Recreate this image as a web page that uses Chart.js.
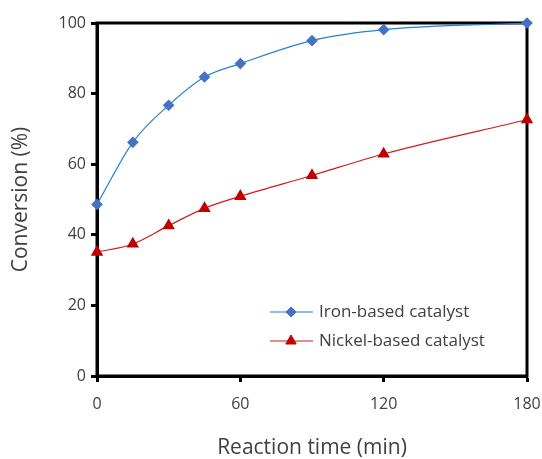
<!DOCTYPE html>
<html lang="en">
<head>
    <meta charset="UTF-8">
    <title>Conversion vs Reaction Time</title>
    <script src="https://cdn.jsdelivr.net/npm/chart.js"></script>
    <style>
        body { margin: 0; background: #fff; }
    </style>
</head>
<body>
    <canvas id="conversionChart" width="542" height="459"></canvas>

    <script>
        // Data
        var times = [0, 15, 30, 45, 60, 90, 120, 180];
        var ironConversion = [48.6, 66.2, 76.7, 84.7, 88.5, 95.0, 98.1, 100.0];
        var nickelConversion = [35.1, 37.4, 42.6, 47.5, 50.9, 56.8, 62.9, 72.6];
        var seriesLabels = ['Iron-based catalyst', 'Nickel-based catalyst'];
        var xTicks = [0, 60, 120, 180];
        var yTicks = [0, 20, 40, 60, 80, 100];

        var fontFamily = "'Open Sans', 'Noto Sans', sans-serif";
        var textColor = '#404040';

        function toPoints(xs, ys) {
            return xs.map(function(x, i) { return { x: x, y: ys[i] }; });
        }

        // Frame around the plot area (drawn under the lines and markers)
        var framePlugin = {
            id: 'frame',
            beforeDatasetsDraw: function(chart) {
                var a = chart.chartArea, ctx = chart.ctx;
                ctx.save();
                ctx.strokeStyle = '#000';
                ctx.lineWidth = 3;
                ctx.strokeRect(a.left, a.top, a.right - a.left, a.bottom - a.top);
                ctx.restore();
            }
        };

        // Legend drawn inside the plot, bottom right
        var insideLegend = {
            id: 'insideLegend',
            afterDraw: function(chart) {
                var ctx = chart.ctx;
                var rows = [312, 341];
                ctx.save();
                chart.data.datasets.forEach(function(ds, i) {
                    var y = rows[i];
                    ctx.strokeStyle = ds.borderColor;
                    ctx.lineWidth = 1.2;
                    ctx.beginPath();
                    ctx.moveTo(270, y);
                    ctx.lineTo(313, y);
                    ctx.stroke();
                    ctx.fillStyle = ds.pointBackgroundColor;
                    ctx.strokeStyle = ds.pointBorderColor;
                    ctx.lineWidth = 1;
                    Chart.helpers.drawPoint(ctx, {
                        pointStyle: ds.pointStyle,
                        radius: ds.pointRadius,
                        borderWidth: 1
                    }, 291, y);
                    ctx.fillStyle = textColor;
                    ctx.font = '17px ' + fontFamily;
                    ctx.textBaseline = 'middle';
                    ctx.textAlign = 'left';
                    ctx.fillText(ds.label, 319, y);
                });
                ctx.restore();
            }
        };

        var ctx = document.getElementById('conversionChart').getContext('2d');
        var chart = new Chart(ctx, {
            type: 'line',
            data: {
                datasets: [{
                    label: seriesLabels[0],
                    data: toPoints(times, ironConversion),
                    borderColor: '#2481d7',
                    borderWidth: 1.2,
                    pointStyle: 'rectRot',
                    pointRadius: 5,
                    pointBackgroundColor: '#4472c4',
                    pointBorderColor: '#4472c4',
                    cubicInterpolationMode: 'monotone',
                    clip: false,
                    fill: false
                }, {
                    label: seriesLabels[1],
                    data: toPoints(times, nickelConversion),
                    borderColor: '#d01c1c',
                    borderWidth: 1.2,
                    pointStyle: 'triangle',
                    pointRadius: 6,
                    pointBackgroundColor: '#c00000',
                    pointBorderColor: '#c00000',
                    cubicInterpolationMode: 'monotone',
                    clip: false,
                    fill: false
                }]
            },
            options: {
                responsive: false,
                animation: false,
                layout: { padding: { top: 23, right: 15, left: 0, bottom: 0 } },
                plugins: {
                    legend: { display: false },
                    tooltip: { enabled: false }
                },
                scales: {
                    x: {
                        type: 'linear',
                        min: 0,
                        max: 180,
                        afterBuildTicks: function(scale) {
                            scale.ticks = xTicks.map(function(v) { return { value: v }; });
                        },
                        afterFit: function(scale) {
                            scale.height = 83;
                            scale.paddingLeft = 0;
                            scale.paddingRight = 0;
                        },
                        grid: {
                            drawOnChartArea: false,
                            drawTicks: true,
                            tickLength: 6,
                            tickWidth: 3,
                            tickColor: '#000'
                        },
                        border: { display: true, color: '#000', width: 3 },
                        ticks: {
                            padding: 13,
                            color: textColor,
                            font: { family: fontFamily, size: 16 }
                        },
                        title: {
                            display: true,
                            text: 'Reaction time (min)',
                            color: textColor,
                            font: { family: fontFamily, size: 21, lineHeight: 1 },
                            padding: { top: 0, bottom: 0 }
                        }
                    },
                    y: {
                        min: 0,
                        max: 100,
                        afterBuildTicks: function(scale) {
                            scale.ticks = yTicks.map(function(v) { return { value: v }; });
                        },
                        afterFit: function(scale) {
                            scale.width = 97;
                            scale.paddingTop = 0;
                            scale.paddingBottom = 0;
                        },
                        grid: {
                            drawOnChartArea: false,
                            drawTicks: true,
                            tickLength: 6,
                            tickWidth: 3,
                            tickColor: '#000'
                        },
                        border: { display: true, color: '#000', width: 3 },
                        ticks: {
                            padding: 5,
                            color: textColor,
                            font: { family: fontFamily, size: 16 }
                        },
                        title: {
                            display: true,
                            text: 'Conversion (%)',
                            color: textColor,
                            font: { family: fontFamily, size: 21 },
                            padding: { top: 8, bottom: 0 }
                        }
                    }
                }
            },
            plugins: [framePlugin, insideLegend]
        });
    </script>
</body>
</html>
